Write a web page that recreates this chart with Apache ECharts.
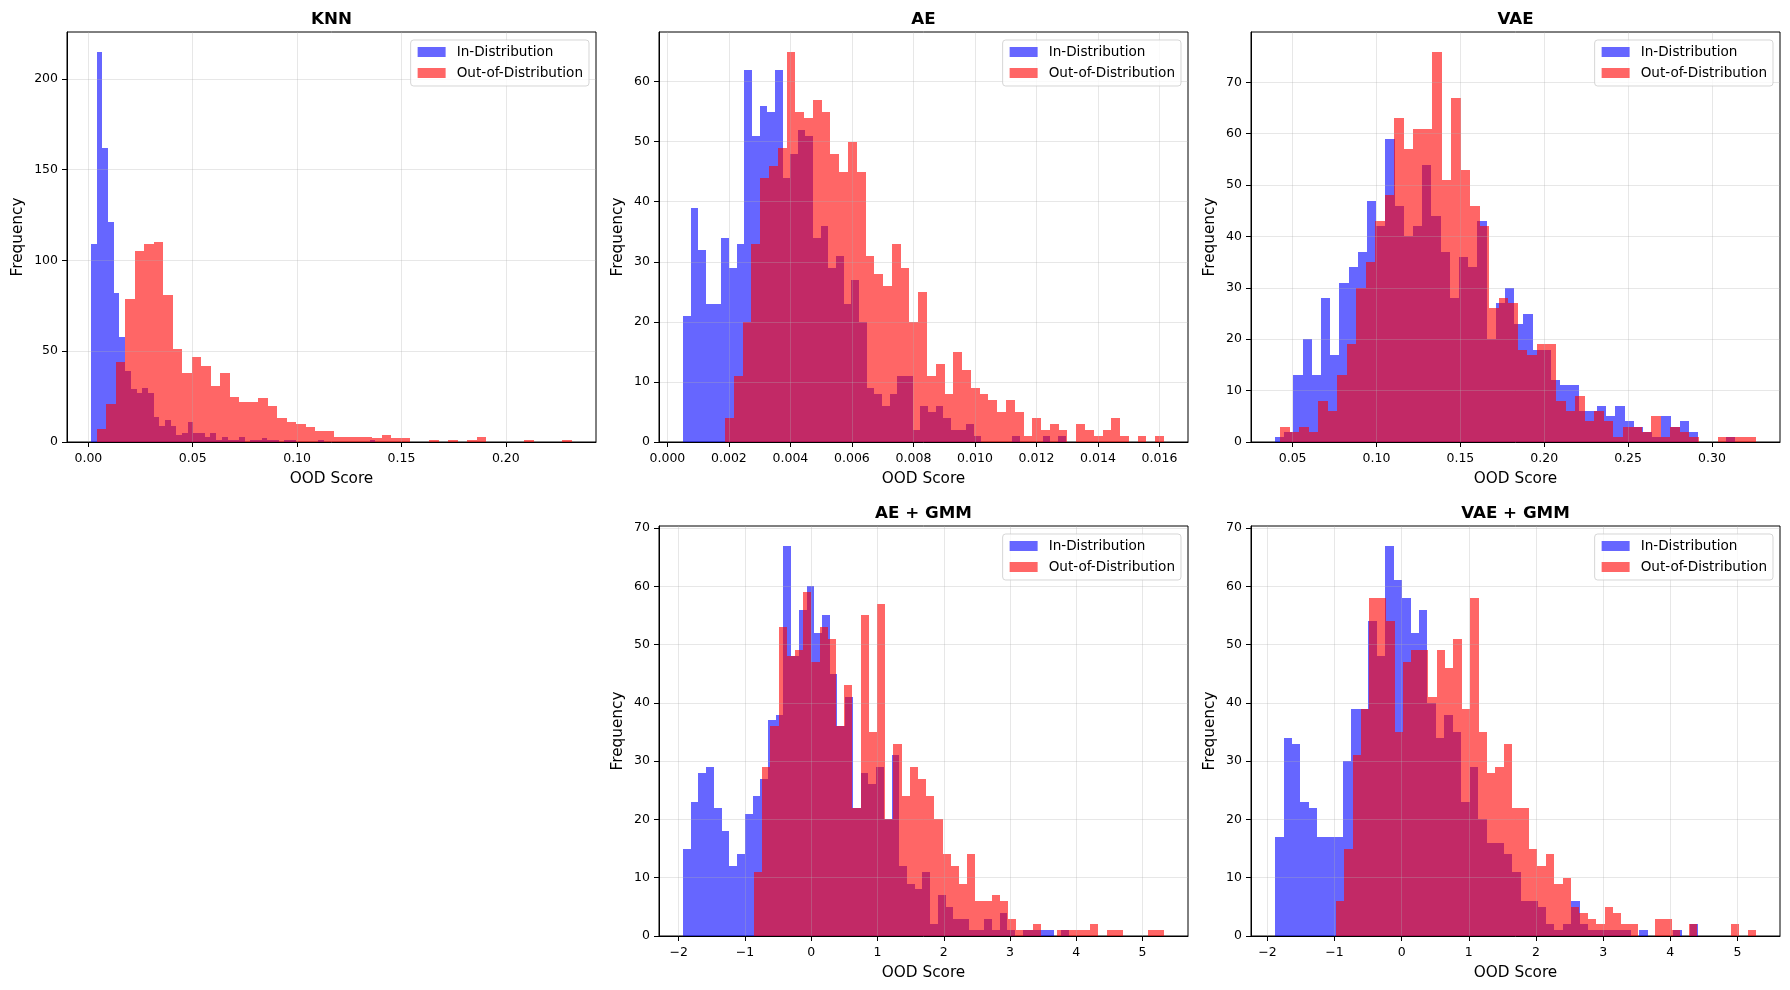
<!DOCTYPE html>
<html>
<head>
<meta charset="utf-8">
<title>OOD score histograms</title>
<script src="https://cdn.jsdelivr.net/npm/echarts@6/dist/echarts.min.js"></script>
<style>
  html, body { margin: 0; padding: 0; background: #fff; }
  #chart { width: 1790px; height: 990px; }
</style>
</head>
<body>
<div id="chart"></div>
<script>
// histogram bins: first edge, bin width, counts (50 bins each)
const knnInStart = 0.00128, knnInWidth = 0.002724
const knnIn = [109, 215, 162, 121, 82, 58, 39, 29, 27, 30, 27, 14, 9, 12, 9, 4, 5, 11, 5, 5, 3, 5, 1, 3, 1, 1, 3, 0, 1, 1, 2, 1, 1, 0, 1, 1, 0, 0, 0, 0, 1, 0, 0, 0, 0, 0, 0, 0, 0, 1]
const knnOodStart = 0.00403, knnOodWidth = 0.004553
const knnOod = [7, 21, 44, 79, 105, 109, 110, 81, 51, 38, 47, 42, 31, 38, 25, 22, 22, 24, 20, 13, 11, 10, 8, 6, 6, 3, 3, 3, 3, 2, 4, 2, 2, 0, 0, 1, 0, 1, 0, 1, 3, 0, 0, 0, 0, 1, 0, 0, 0, 1]

const aeInStart = 0.000509, aeInWidth = 0.0002488
const aeIn = [21, 39, 32, 23, 23, 34, 29, 33, 62, 51, 56, 55, 62, 44, 48, 52, 51, 34, 36, 29, 31, 23, 27, 20, 9, 8, 6, 8, 11, 11, 2, 6, 5, 6, 4, 2, 2, 3, 1, 0, 0, 0, 0, 1, 0, 0, 0, 1, 0, 1]
const aeOodStart = 0.001875, aeOodWidth = 0.0002854
const aeOod = [4, 11, 20, 33, 44, 46, 49, 65, 55, 54, 57, 55, 48, 45, 50, 45, 31, 28, 26, 33, 29, 20, 25, 11, 13, 8, 15, 12, 9, 8, 7, 5, 7, 5, 1, 4, 2, 3, 2, 0, 3, 2, 1, 2, 4, 1, 0, 1, 0, 1]

const vaeInStart = 0.0395, vaeInWidth = 0.005484
const vaeIn = [1, 2, 13, 20, 13, 28, 17, 31, 34, 37, 47, 42, 59, 46, 40, 42, 54, 44, 37, 28, 36, 34, 43, 20, 27, 30, 23, 25, 18, 18, 12, 11, 11, 6, 6, 7, 5, 7, 4, 3, 2, 1, 5, 3, 4, 2, 0, 0, 0, 1]
const vaeOodStart = 0.04245, vaeOodWidth = 0.005676
const vaeOod = [3, 2, 3, 2, 8, 6, 13, 19, 30, 35, 43, 48, 63, 57, 61, 61, 76, 51, 67, 53, 46, 42, 26, 28, 27, 18, 17, 19, 19, 8, 6, 9, 4, 6, 4, 1, 3, 3, 2, 5, 1, 3, 2, 1, 0, 0, 1, 1, 1, 1]

const aeGmmInStart = -1.9346, aeGmmInWidth = 0.11651
const aeGmmIn = [15, 23, 28, 29, 22, 18, 12, 14, 21, 24, 27, 37, 38, 67, 48, 56, 60, 52, 55, 45, 36, 41, 22, 28, 26, 29, 20, 31, 12, 9, 8, 11, 2, 7, 5, 3, 3, 1, 1, 3, 1, 4, 1, 0, 1, 1, 1, 1, 0, 1]
const aeGmmOodStart = -0.8626, aeGmmOodWidth = 0.1237
const aeGmmOod = [11, 29, 36, 53, 48, 49, 59, 47, 53, 51, 36, 43, 22, 55, 35, 57, 20, 33, 24, 29, 27, 24, 20, 14, 12, 9, 14, 6, 6, 7, 6, 3, 1, 1, 2, 0, 0, 1, 1, 1, 1, 2, 0, 1, 1, 0, 0, 0, 1, 1]

const vaeGmmInStart = -1.886, vaeGmmInWidth = 0.1261
const vaeGmmIn = [17, 34, 33, 23, 22, 17, 17, 17, 30, 39, 39, 54, 48, 67, 61, 58, 52, 56, 40, 34, 38, 35, 23, 29, 20, 16, 16, 14, 11, 6, 6, 5, 2, 1, 2, 6, 2, 1, 1, 1, 1, 1, 0, 1, 0, 0, 0, 1, 0, 2]
const vaeGmmOodStart = -0.9826, vaeGmmOodWidth = 0.12516
const vaeGmmOod = [6, 15, 31, 39, 58, 58, 54, 35, 47, 49, 49, 41, 49, 46, 51, 39, 58, 35, 28, 29, 33, 22, 22, 15, 12, 14, 9, 10, 5, 4, 3, 2, 5, 4, 2, 2, 0, 0, 3, 3, 1, 0, 2, 0, 0, 0, 0, 2, 0, 1]

// tick labels
const knnXTicks = [0, 0.05, 0.10, 0.15, 0.20]
const aeXTicks = [0, 0.002, 0.004, 0.006, 0.008, 0.010, 0.012, 0.014, 0.016]
const vaeXTicks = [0.05, 0.10, 0.15, 0.20, 0.25, 0.30]
const gmmXTicks = [-2, -1, 0, 1, 2, 3, 4, 5]
const knnYTicks = [0, 50, 100, 150, 200]
const aeYTicks = [0, 10, 20, 30, 40, 50, 60]
const vaeYTicks = [0, 10, 20, 30, 40, 50, 60, 70]
const gmmYTicks = [0, 10, 20, 30, 40, 50, 60, 70]

const seriesNames = ['In-Distribution', 'Out-of-Distribution']

const FONT = 'DejaVu Sans'
const BLUE = 'rgba(0,0,255,0.6)'
const RED = 'rgba(255,0,0,0.6)'

function bins(start, width, counts) {
  return counts.map((c, i) => [start + i * width, start + (i + 1) * width, c])
}

function fixed(d) {
  return v => v.toFixed(d)
}
function intMinus(v) {
  return v < 0 ? '\u2212' + Math.abs(v) : String(v)
}

const panels = [
  { title: 'KNN', inS: knnInStart, inW: knnInWidth, inC: knnIn, oodS: knnOodStart, oodW: knnOodWidth, oodC: knnOod,
    xTicks: knnXTicks, yTicks: knnYTicks, step: 0.05, fmt: fixed(2), left: 67, top: 32, yNameGap: 41 },
  { title: 'AE', inS: aeInStart, inW: aeInWidth, inC: aeIn, oodS: aeOodStart, oodW: aeOodWidth, oodC: aeOod,
    xTicks: aeXTicks, yTicks: aeYTicks, step: 0.002, fmt: fixed(3), left: 659, top: 32, yNameGap: 33 },
  { title: 'VAE', inS: vaeInStart, inW: vaeInWidth, inC: vaeIn, oodS: vaeOodStart, oodW: vaeOodWidth, oodC: vaeOod,
    xTicks: vaeXTicks, yTicks: vaeYTicks, step: 0.05, fmt: fixed(2), left: 1251, top: 32, yNameGap: 33 },
  { title: 'AE + GMM', inS: aeGmmInStart, inW: aeGmmInWidth, inC: aeGmmIn, oodS: aeGmmOodStart, oodW: aeGmmOodWidth, oodC: aeGmmOod,
    xTicks: gmmXTicks, yTicks: gmmYTicks, step: 1, fmt: intMinus, left: 659, top: 526, yNameGap: 33 },
  { title: 'VAE + GMM', inS: vaeGmmInStart, inW: vaeGmmInWidth, inC: vaeGmmIn, oodS: vaeGmmOodStart, oodW: vaeGmmOodWidth, oodC: vaeGmmOod,
    xTicks: gmmXTicks, yTicks: gmmYTicks, step: 1, fmt: intMinus, left: 1251, top: 526, yNameGap: 33 }
]

const W = 529, H = 410

function renderBin(params, api) {
  const h = api.value(2)
  if (!h) return null
  const a = api.coord([api.value(0), h])
  const b = api.coord([api.value(1), 0])
  const x0 = Math.round(a[0]), x1 = Math.round(b[0])
  const y0 = Math.round(a[1]), y1 = Math.round(b[1])
  return {
    type: 'rect',
    shape: { x: x0, y: y0, width: x1 - x0, height: y1 - y0 },
    style: { fill: api.visual('color') }
  }
}

const grid = [], xAxis = [], yAxis = [], series = [], legend = [], title = []
const axisLineStyle = { color: '#000', width: 1 }
const gridLineStyle = { color: 'rgba(176,176,176,0.3)', width: 1 }

panels.forEach((p, i) => {
  const lo = Math.min(p.inS, p.oodS)
  const hi = Math.max(p.inS + p.inW * p.inC.length, p.oodS + p.oodW * p.oodC.length)
  const pad = (hi - lo) * 0.05
  const yMax = Math.max(...p.inC, ...p.oodC) * 1.05

  grid.push({ left: p.left, top: p.top, width: W, height: H, show: true, borderColor: '#000', borderWidth: 1,
    backgroundColor: 'transparent', containLabel: false })

  xAxis.push({
    gridIndex: i, type: 'value', min: lo - pad, max: hi + pad,
    minInterval: p.step, maxInterval: p.step, z: 5,
    name: 'OOD Score', nameLocation: 'middle', nameGap: 30,
    nameTextStyle: { fontFamily: FONT, fontSize: 15.3, color: '#000' },
    axisLine: { show: true, onZero: false, lineStyle: axisLineStyle },
    axisTick: { show: true, length: 5, lineStyle: axisLineStyle, customValues: p.xTicks },
    axisLabel: { show: true, customValues: p.xTicks, formatter: p.fmt, margin: 10, fontFamily: FONT, fontSize: 12.5, color: '#000',
      showMinLabel: true, showMaxLabel: true, hideOverlap: false },
    splitLine: { show: true, lineStyle: gridLineStyle }
  })

  yAxis.push({
    gridIndex: i, type: 'value', min: 0, max: yMax,
    minInterval: p.yTicks[1], maxInterval: p.yTicks[1], z: 5,
    name: 'Frequency', nameLocation: 'middle', nameGap: p.yNameGap, nameRotate: 90,
    nameTextStyle: { fontFamily: FONT, fontSize: 15.3, color: '#000' },
    axisLine: { show: true, onZero: false, lineStyle: axisLineStyle },
    axisTick: { show: true, length: 5, lineStyle: axisLineStyle, customValues: p.yTicks },
    axisLabel: { show: true, customValues: p.yTicks, margin: 9, fontFamily: FONT, fontSize: 12.5, color: '#000',
      showMinLabel: true, showMaxLabel: true, hideOverlap: false },
    splitLine: { show: true, lineStyle: gridLineStyle }
  })

  series.push({
    type: 'custom', name: seriesNames[0], xAxisIndex: i, yAxisIndex: i,
    renderItem: renderBin, encode: { x: [0, 1], y: 2 }, clip: true,
    itemStyle: { color: BLUE }, data: bins(p.inS, p.inW, p.inC)
  })
  series.push({
    type: 'custom', name: seriesNames[1], xAxisIndex: i, yAxisIndex: i,
    renderItem: renderBin, encode: { x: [0, 1], y: 2 }, clip: true,
    itemStyle: { color: RED }, data: bins(p.oodS, p.oodW, p.oodC)
  })

  legend.push({
    data: seriesNames, orient: 'vertical', selectedMode: false, z: 10,
    right: 1790 - (p.left + W - 7), top: p.top + 8,
    icon: 'rect', itemWidth: 28, itemHeight: 10, itemGap: 7,
    padding: [5, 6, 6, 7],
    backgroundColor: 'rgba(255,255,255,0.8)', borderColor: 'rgba(204,204,204,0.8)', borderWidth: 1, borderRadius: 3,
    formatter: name => '{g| }' + name,
    textStyle: { fontFamily: FONT, fontSize: 13.6, color: '#000', lineHeight: 14,
      rich: { g: { width: 6, fontSize: 13.6, fontFamily: FONT } } }
  })

  title.push({
    text: p.title, left: p.left + W / 2, top: p.top - 21, textAlign: 'center', padding: 0,
    textStyle: { fontFamily: FONT, fontSize: 16.7, fontWeight: 'bold', color: '#000' }
  })
})

const chart = echarts.init(document.getElementById('chart'), null, { renderer: 'canvas' })
chart.setOption({
  backgroundColor: '#fff',
  animation: false,
  title, grid, xAxis, yAxis, series, legend
})
</script>
</body>
</html>
